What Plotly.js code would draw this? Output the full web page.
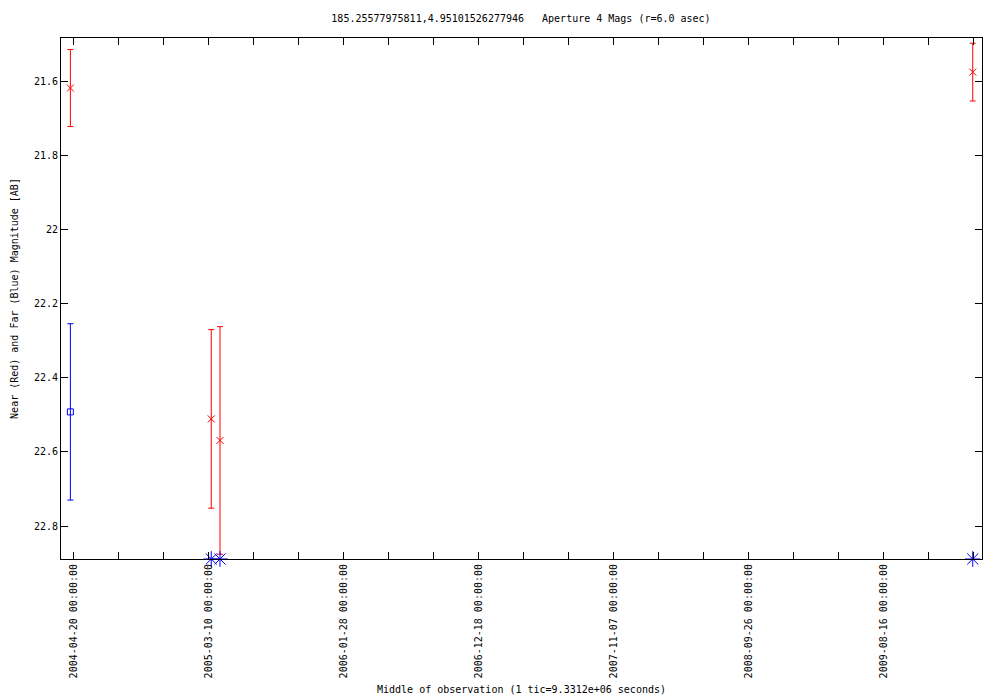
<!DOCTYPE html>
<html>
<head>
<meta charset="utf-8">
<script src="https://cdn.plot.ly/plotly-3.0.1.min.js"></script>
<style>html,body{margin:0;padding:0;background:#fff;}#chart{width:1000px;height:700px;}</style>
</head>
<body>
<div id="chart"></div>
<script>
// Near (red) measurements
const nearDates = ['2004-04-12', '2005-03-16', '2005-04-06', '2010-03-17'];
const nearMag = [21.618, 22.511, 22.569, 21.575];
const nearErr = [0.104, 0.241, 0.307, 0.078];
// Far (blue) measurements
const farDates = ['2004-04-12'];
const farMag = [22.492];
const farErr = [0.238];
// Far (blue) markers drawn at the bottom edge
const farLimitDates = ['2005-03-16', '2005-04-06', '2010-03-17'];
const farLimitMag = [22.889, 22.889, 22.889];

const titleText = '185.25577975811,4.95101526277946\u00a0\u00a0\u00a0Aperture 4 Mags (r=6.0 asec)';
const xTitle = 'Middle of observation (1 tic=9.3312e+06 seconds)';
const yTitle = 'Near (Red) and Far (Blue) Magnitude [AB]';

const FONT = 'DejaVu Sans Mono, monospace';
const DAY = 86400000;

const traces = [
  {
    x: nearDates, y: nearMag, type: 'scatter', mode: 'markers', name: 'Near',
    marker: {symbol: 'x-thin-open', size: 7, color: '#ff0000', line: {color: '#ff0000', width: 1}},
    error_y: {type: 'data', array: nearErr, visible: true, color: '#ff0000', thickness: 1, width: 3},
    cliponaxis: false
  },
  {
    x: farDates, y: farMag, type: 'scatter', mode: 'markers', name: 'Far',
    marker: {symbol: 'square-open', size: 6, color: '#0000ff', line: {color: '#0000ff', width: 1}},
    error_y: {type: 'data', array: farErr, visible: true, color: '#0000ff', thickness: 1, width: 3},
    cliponaxis: false
  },
  {
    x: farLimitDates, y: farLimitMag, type: 'scatter', mode: 'markers', name: 'Far limit',
    marker: {symbol: 'asterisk-open', size: 13, color: '#0000ff', line: {color: '#0000ff', width: 1}},
    cliponaxis: false
  }
];

const layout = {
  width: 1000, height: 700,
  paper_bgcolor: '#ffffff', plot_bgcolor: '#ffffff',
  showlegend: false,
  margin: {l: 61, r: 18, t: 38, b: 141, pad: 0},
  font: {family: FONT, size: 10, color: '#000000'},
  title: {text: titleText, font: {family: FONT, size: 10, color: '#000'}, x: 0.521, xref: 'container', xanchor: 'center', y: 1 - 18/700, yref: 'container', yanchor: 'middle'},
  xaxis: {
    type: 'date',
    range: ['2004-03-20 12:00', '2010-04-08 05:00'],
    tick0: '2004-04-20', dtick: 324 * DAY,
    tickformat: '%Y-%m-%d %H:%M:%S',
    tickangle: -90,
    ticks: 'inside', ticklen: 7, tickwidth: 1, tickcolor: '#000',
    minor: {tick0: '2004-04-20', dtick: 108 * DAY, ticks: 'inside', ticklen: 7, tickwidth: 1, tickcolor: '#000', showgrid: false},
    showline: true, linecolor: '#000', linewidth: 1, mirror: 'ticks',
    showgrid: false, zeroline: false,
    tickfont: {family: FONT, size: 10, color: '#000'},
    title: {text: xTitle, font: {family: FONT, size: 10, color: '#000'}, standoff: 8}
  },
  yaxis: {
    range: [22.889, 21.483],
    tick0: 21.6, dtick: 0.2,
    ticks: 'inside', ticklen: 7, tickwidth: 1, tickcolor: '#000',
    showline: true, linecolor: '#000', linewidth: 1, mirror: 'ticks',
    showgrid: false, zeroline: false,
    tickfont: {family: FONT, size: 10, color: '#000'},
    title: {text: yTitle, font: {family: FONT, size: 10, color: '#000'}, standoff: 13}
  }
};

Plotly.newPlot('chart', traces, layout, {displayModeBar: false, staticPlot: true});
</script>
</body>
</html>
